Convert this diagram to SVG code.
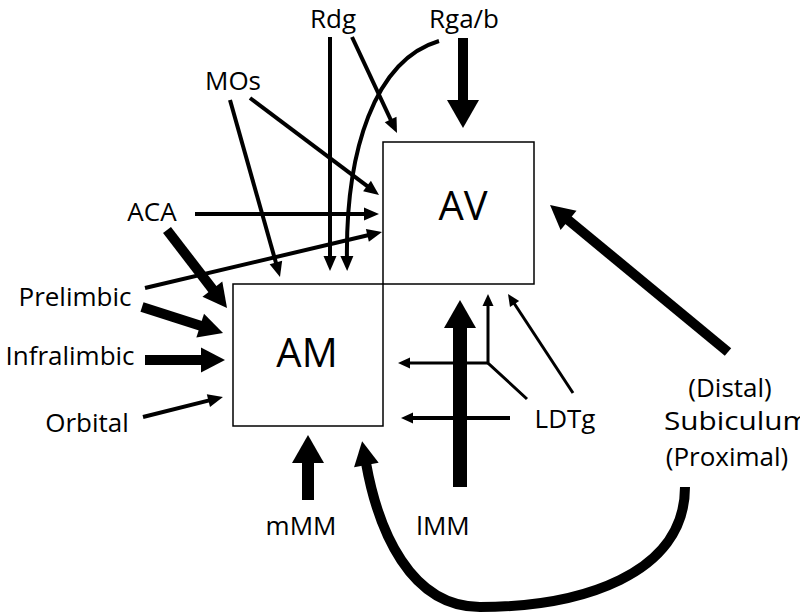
<svg xmlns="http://www.w3.org/2000/svg" width="800" height="616" viewBox="0 0 800 616">
<defs>
<style>
text{font-family:"Open Sans","Noto Sans","Liberation Sans",sans-serif;fill:#000}
.lbl{font-size:26px;text-anchor:middle}
.big{font-size:40px;text-anchor:middle}
.box{fill:#fff;stroke:#000;stroke-width:1.5}
.c{fill:none;stroke:#000;stroke-linecap:butt;stroke-linejoin:miter}
.w4{stroke-width:4;marker-end:url(#ah)}
.w3{stroke-width:3;marker-end:url(#as)}
.w10{stroke-width:10;marker-end:url(#am)}
.w12{stroke-width:12;marker-end:url(#ab)}
</style>
<marker id="ah" markerUnits="userSpaceOnUse" markerWidth="15" markerHeight="13" refX="7" refY="6.5" orient="auto" overflow="visible"><path d="M0,0 L15,6.5 L0,13 z" fill="#000"/></marker>
<marker id="as" markerUnits="userSpaceOnUse" markerWidth="12" markerHeight="11" refX="6" refY="5.5" orient="auto" overflow="visible"><path d="M0,0 L12,5.5 L0,11 z" fill="#000"/></marker>
<marker id="am" markerUnits="userSpaceOnUse" markerWidth="24" markerHeight="25" refX="2" refY="12.5" orient="auto" overflow="visible"><path d="M0,0 L24,12.5 L0,25 z" fill="#000"/></marker>
<marker id="ab" markerUnits="userSpaceOnUse" markerWidth="28" markerHeight="32" refX="2" refY="16" orient="auto" overflow="visible"><path d="M0,0 L28,16 L0,32 z" fill="#000"/></marker>
</defs>
<rect width="800" height="616" fill="#fff"/>
<g id="AV"><rect class="box" x="383" y="142" width="151" height="142"/><text class="big" x="463" y="220">AV</text></g>
<g id="AM"><rect class="box" x="233" y="284" width="150" height="142"/><text class="big" x="307" y="367">AM</text></g>
<g id="Rdg"><text class="lbl" x="333" y="28">Rdg</text></g>
<g id="Rgab"><text class="lbl" x="464" y="28">Rga/b</text></g>
<g id="MOs"><text class="lbl" x="233" y="90">MOs</text></g>
<g id="ACA"><text class="lbl" x="152" y="221">ACA</text></g>
<g id="Prelimbic"><text class="lbl" x="75" y="306">Prelimbic</text></g>
<g id="Infralimbic"><text class="lbl" x="70" y="365">Infralimbic</text></g>
<g id="Orbital"><text class="lbl" x="87" y="432">Orbital</text></g>
<g id="LDTg"><text class="lbl" x="565" y="428">LDTg</text></g>
<g id="Subiculum"><text class="lbl" x="730" y="397">(Distal)</text><text class="lbl" x="664" y="430" style="text-anchor:start" textLength="146" lengthAdjust="spacingAndGlyphs">Subiculum</text><text class="lbl" x="727" y="466">(Proximal)</text></g>
<g id="mMM"><text class="lbl" x="301" y="535">mMM</text></g>
<g id="lMM"><text class="lbl" x="443" y="535">lMM</text></g>
<g id="connectors">
<path class="c w4" d="M330,37 L330,263"/>
<path class="c w4" d="M352,37 L393.6,125.8"/>
<path class="c w4" d="M439,41 C375,60 345,150 347,263"/>
<path class="c w10" d="M463,38 L463,102" style="marker-end:url(#ab)"/>
<path class="c w4" d="M230,100 L277.8,269.3"/>
<path class="c w4" d="M250,98 L372.6,190.2"/>
<path class="c w4" d="M195,214 L371,214"/>
<path class="c w4" d="M145,288 L374.2,233.8"/>
<path class="c w10" d="M167,230 L213.6,290.6"/>
<path class="c w10" d="M142,307 L202.1,326.3"/>
<path class="c w10" d="M145,360 L203,360"/>
<path class="c w4" d="M143,417 L215.2,398.9"/>
<path class="c w3" d="M573,393 L511.3,299"/>
<path class="c w3" d="M527,399 L488,363 L488,300"/>
<path class="c w3" d="M488,363 L404,363"/>
<path class="c w4" d="M510,418 L407,418" style="marker-end:url(#as)"/>
<path class="c" d="M460,487 L460,326" style="stroke-width:14;marker-end:url(#ab)"/>
<path class="c w12" d="M308,500 L308,461"/>
<path class="c w10" d="M685,487 C685,575 580,607 480,607 C410,607 378,530 366,463"/>
<path class="c w10" d="M728,352 L567,219"/>
</g>
</svg>
